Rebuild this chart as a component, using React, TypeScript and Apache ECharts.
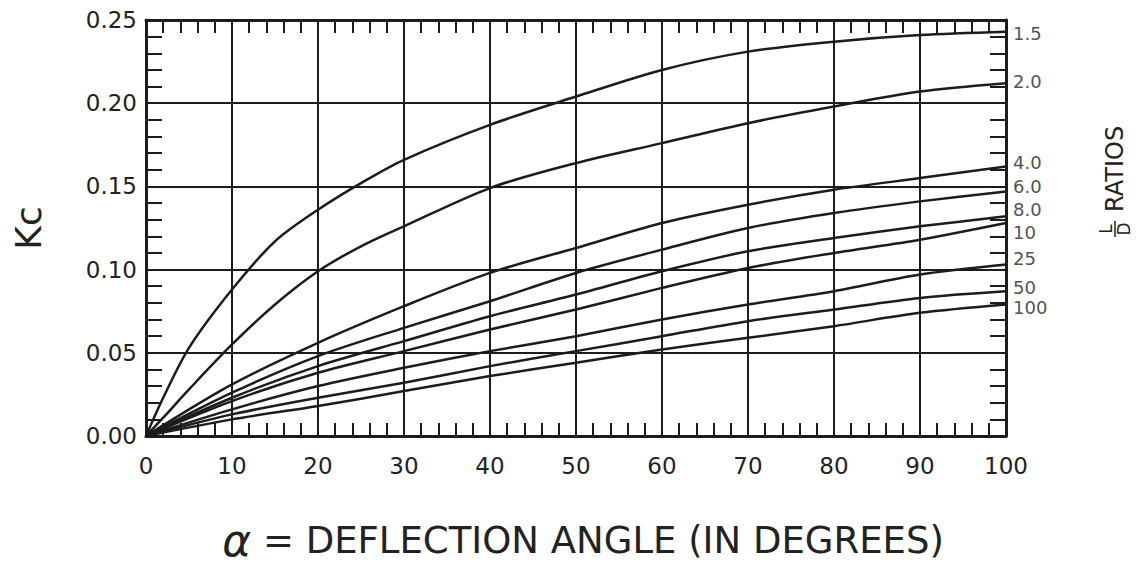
import React, { useEffect, useRef } from "react";
import * as echarts from "echarts";

// Deflection angle (degrees)
const anglesFine = [0, 2, 5, 10, 15, 20, 25, 30, 40, 50, 60, 70, 80, 90, 100];
const angles = [0, 10, 20, 30, 40, 50, 60, 70, 80, 90, 100];

// Kc values per L/D ratio
const kc_1_5 = [0, 0.023, 0.053, 0.088, 0.117, 0.136, 0.152, 0.166, 0.187, 0.204, 0.22, 0.231, 0.237, 0.241, 0.243];
const kc_2_0 = [0, 0.011, 0.028, 0.055, 0.079, 0.099, 0.114, 0.126, 0.149, 0.164, 0.176, 0.188, 0.198, 0.207, 0.212];
const kc_4_0 = [0, 0.031, 0.056, 0.078, 0.098, 0.113, 0.128, 0.139, 0.148, 0.155, 0.162];
const kc_6_0 = [0, 0.026, 0.048, 0.065, 0.081, 0.098, 0.112, 0.125, 0.134, 0.141, 0.147];
const kc_8_0 = [0, 0.023, 0.042, 0.057, 0.072, 0.085, 0.099, 0.111, 0.119, 0.126, 0.132];
const kc_10 = [0, 0.021, 0.038, 0.051, 0.064, 0.076, 0.089, 0.101, 0.11, 0.118, 0.128];
const kc_25 = [0, 0.016, 0.03, 0.041, 0.051, 0.06, 0.07, 0.079, 0.087, 0.097, 0.103];
const kc_50 = [0, 0.013, 0.023, 0.032, 0.042, 0.051, 0.06, 0.069, 0.076, 0.083, 0.087];
const kc_100 = [0, 0.01, 0.018, 0.027, 0.036, 0.044, 0.052, 0.059, 0.066, 0.074, 0.079];

const ratioLabels = ["1.5", "2.0", "4.0", "6.0", "8.0", "10", "25", "50", "100"];

// label vertical nudges (style only)
const labelDy = [2, -2, -4, -5, -7, 9, -6, -4, 3];

const FONT = "DejaVu Sans";
const INK = "#1c1c1c";

export default function App() {
  const ref = useRef<HTMLDivElement>(null);

  useEffect(() => {
    if (!ref.current) return;
    const chart = echarts.init(ref.current, undefined, { renderer: "svg" });

    const curves: { x: number[]; y: number[] }[] = [
      { x: anglesFine, y: kc_1_5 },
      { x: anglesFine, y: kc_2_0 },
      { x: angles, y: kc_4_0 },
      { x: angles, y: kc_6_0 },
      { x: angles, y: kc_8_0 },
      { x: angles, y: kc_10 },
      { x: angles, y: kc_25 },
      { x: angles, y: kc_50 },
      { x: angles, y: kc_100 },
    ];

    const lineSeries = curves.map((c, i) => ({
      type: "line",
      name: ratioLabels[i],
      data: c.x.map((a, j) => [a, c.y[j]]),
      showSymbol: false,
      smooth: 0.3,
      lineStyle: { color: INK, width: 2.5 },
      xAxisIndex: 0,
      yAxisIndex: 0,
      z: 3,
    }));

    const labelSeries = {
      type: "scatter",
      symbolSize: 0,
      xAxisIndex: 0,
      yAxisIndex: 0,
      data: curves.map((c, i) => ({
        value: [c.x[c.x.length - 1], c.y[c.y.length - 1]],
        label: {
          show: true,
          position: "right",
          distance: 7,
          offset: [0, labelDy[i]],
          formatter: ratioLabels[i],
          fontSize: 18,
          fontFamily: FONT,
          color: "#222",
        },
      })),
      z: 4,
    };

    const frameLine = { show: true, onZero: false, lineStyle: { color: INK, width: 3 } };

    chart.setOption({
      animation: false,
      backgroundColor: "#ffffff",
      grid: { left: 146, right: 132, top: 20, bottom: 130 },
      xAxis: [
        {
          type: "value",
          position: "bottom",
          min: 0,
          max: 100,
          interval: 10,
          axisLine: frameLine,
          axisTick: { show: false, inside: true },
          minorTick: { show: true, splitNumber: 5, length: 13, lineStyle: { color: INK, width: 2 } },
          splitLine: { show: true, lineStyle: { color: INK, width: 2 } },
          axisLabel: { fontSize: 23, fontFamily: FONT, color: "#222", margin: 18 },
          name: "{a|α} = DEFLECTION ANGLE (IN DEGREES)",
          nameLocation: "middle",
          nameGap: 84,
          nameTextStyle: {
            fontSize: 37,
            fontFamily: FONT,
            color: "#222",
            lineHeight: 40,
            padding: [0, 0, 0, 14],
            rich: {
              a: { fontSize: 44, fontStyle: "italic", fontFamily: FONT, color: "#222", lineHeight: 40 },
            },
          },
        },
        {
          type: "value",
          position: "top",
          min: 0,
          max: 100,
          interval: 10,
          axisLine: frameLine,
          axisTick: { show: false, inside: true },
          minorTick: { show: true, splitNumber: 5, length: 13, lineStyle: { color: INK, width: 2 } },
          splitLine: { show: false },
          axisLabel: { show: false },
        },
      ],
      yAxis: [
        {
          type: "value",
          position: "left",
          min: 0,
          max: 0.25,
          interval: 0.05,
          axisLine: frameLine,
          axisTick: { show: false, inside: true },
          minorTick: { show: true, splitNumber: 5, length: 16, lineStyle: { color: INK, width: 2 } },
          splitLine: { show: true, lineStyle: { color: INK, width: 2 } },
          axisLabel: {
            fontSize: 23,
            fontFamily: FONT,
            color: "#222",
            margin: 9,
            formatter: (v: number) => v.toFixed(2),
          },
          name: "Kc",
          nameLocation: "middle",
          nameRotate: 90,
          nameGap: 100,
          nameTextStyle: { fontSize: 36, fontFamily: FONT, color: "#222" },
        },
        {
          type: "value",
          position: "right",
          min: 0,
          max: 0.25,
          interval: 0.05,
          axisLine: frameLine,
          axisTick: { show: false, inside: true },
          minorTick: { show: true, splitNumber: 5, length: 16, lineStyle: { color: INK, width: 2 } },
          splitLine: { show: false },
          axisLabel: { show: false },
        },
      ],
      graphic: [
        {
          type: "group",
          x: 1115,
          y: 242,
          rotation: Math.PI / 2,
          children: [
            {
              type: "text",
              x: 13,
              y: -9,
              style: { text: "L", fontSize: 17, fontFamily: FONT, fill: "#222", align: "center", verticalAlign: "middle" },
            },
            {
              type: "line",
              shape: { x1: 5, y1: 0, x2: 21, y2: 0 },
              style: { stroke: "#222", lineWidth: 1.5 },
            },
            {
              type: "text",
              x: 13,
              y: 9,
              style: { text: "D", fontSize: 17, fontFamily: FONT, fill: "#222", align: "center", verticalAlign: "middle" },
            },
            {
              type: "text",
              x: 30,
              y: 0,
              style: { text: "RATIOS", fontSize: 24, fontFamily: FONT, fill: "#222", align: "left", verticalAlign: "middle" },
            },
          ],
        },
      ],
      series: [...lineSeries, labelSeries],
    });

    return () => chart.dispose();
  }, []);

  return (
    <div
      ref={ref}
      style={{ position: "absolute", left: 0, top: 0, width: 1138, height: 567, background: "#fff" }}
    />
  );
}
